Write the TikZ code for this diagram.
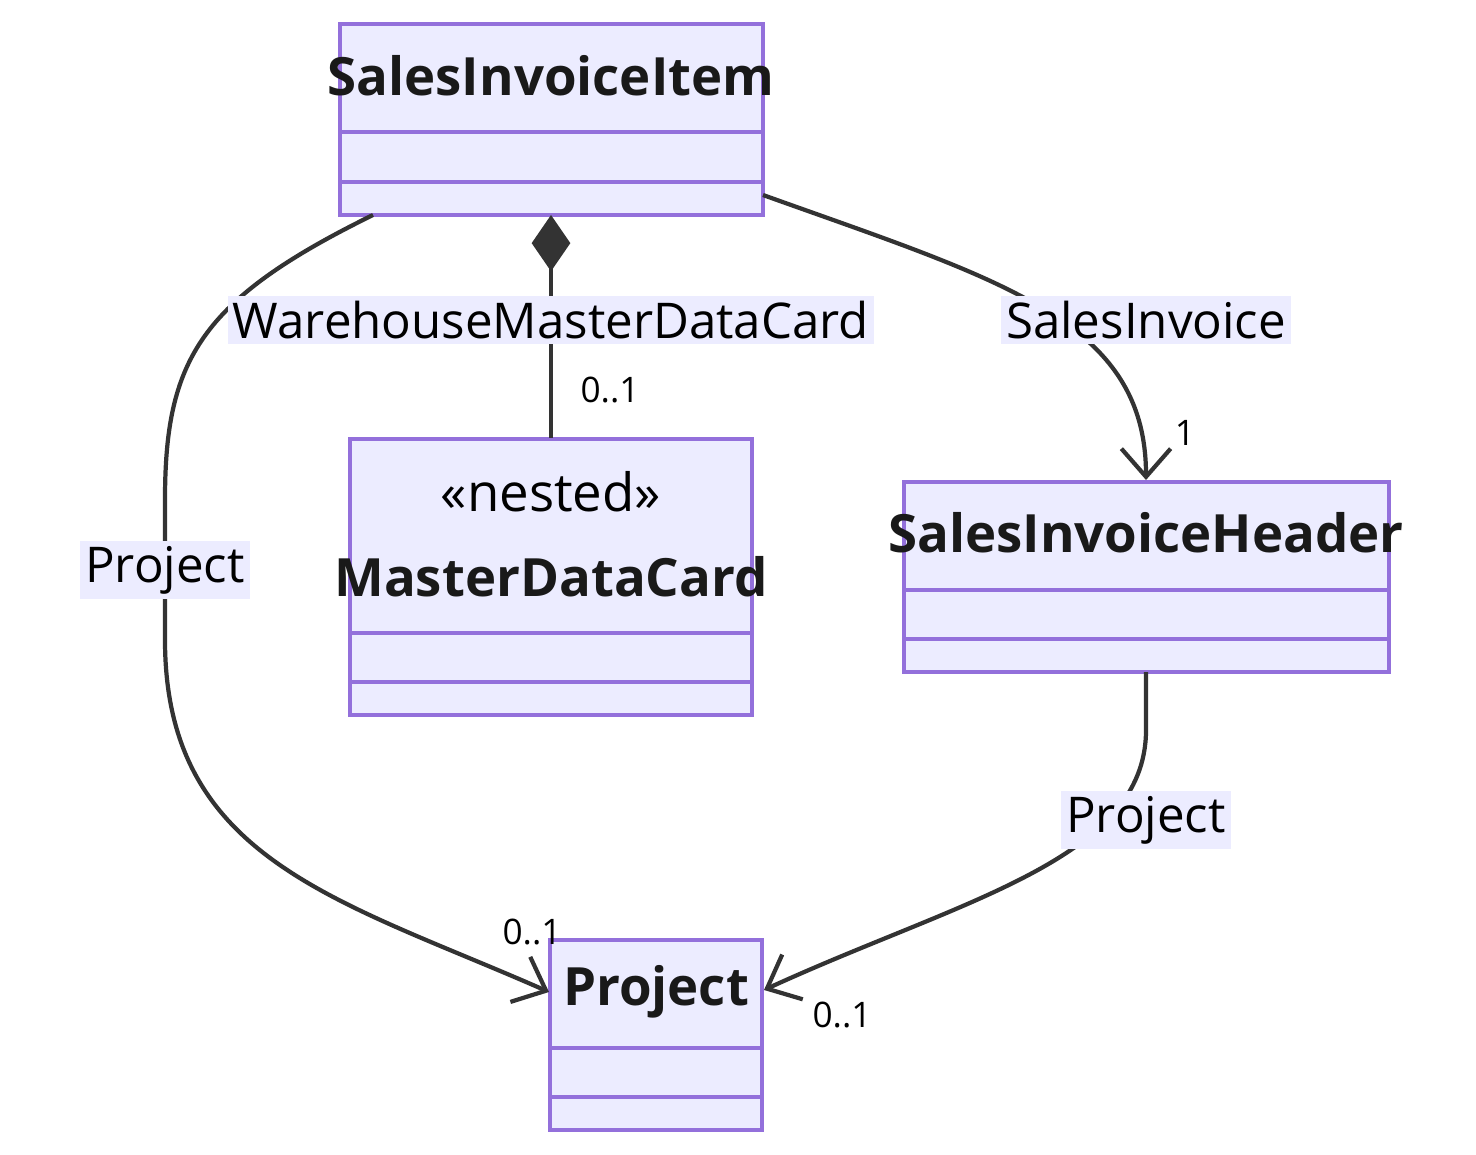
\documentclass[tikz,border=0pt]{standalone}
\usepackage{fontspec}
\setmainfont{Open Sans}
\usetikzlibrary{arrows.meta}
\definecolor{clsfill}{HTML}{ECECFF}
\definecolor{clsdraw}{HTML}{9370DB}
\definecolor{edgecol}{HTML}{333333}
\tikzset{
  cls/.style={draw=clsdraw,fill=clsfill,line width=1.2pt,inner sep=0pt},
  sep/.style={draw=clsdraw,line width=1.2pt},
  title/.style={font=\bfseries\fontsize{15}{18}\selectfont,text=black!90},
  lbl/.style={fill=clsfill,inner sep=1.5pt,font=\fontsize{14}{17}\selectfont},
  mult/.style={font=\fontsize{10}{12}\selectfont},
  rel/.style={draw=edgecol,line width=1.2pt},
  head/.style={-{Straight Barb[length=8pt,width=14pt,line width=1.2pt]}},
  comp/.style={{Diamond[length=16pt,width=11pt,fill=edgecol]}-}
}
\begin{document}
\begin{tikzpicture}[x=0.01cm,y=-0.01cm]
  \useasboundingbox (0,0) rectangle (1476,1155);
  % class boxes
  \node[cls,minimum width=4.23cm,minimum height=1.91cm] (item) at (551.5,119.5) {};
  \draw[sep] (340,132) -- (763,132) (340,182) -- (763,182);
  \node[title] (itemname) at (551,76) {SalesInvoiceItem};
  \node[cls,minimum width=4.02cm,minimum height=2.76cm] (card) at (551,577) {};
  \draw[sep] (350,633) -- (752,633) (350,682) -- (752,682);
  \node[font=\fontsize{15}{18}\selectfont] (cardstereo) at (551,492) {«nested»};
  \node[title] (cardname) at (551,577) {MasterDataCard};
  \node[cls,minimum width=4.85cm,minimum height=1.90cm] (header) at (1146.5,577) {};
  \draw[sep] (904,590) -- (1389,590) (904,639) -- (1389,639);
  \node[title] (headername) at (1146,533) {SalesInvoiceHeader};
  \node[cls,minimum width=2.12cm,minimum height=1.90cm] (project) at (656,1035) {};
  \draw[sep] (550,1048) -- (762,1048) (550,1097) -- (762,1097);
  \node[title] (projectname) at (656,992) {Project};
  % connector ends
  \coordinate (itemsw) at (373,215);
  \coordinate (itemse) at (763,195);
  \coordinate (itemsc) at (551,215);
  \coordinate (cardn) at (551,438);
  \coordinate (headern) at (1146,480);
  \coordinate (headers) at (1146,672);
  \coordinate (projectw) at (549,992);
  \coordinate (projecte) at (764,990);
  % relations
  \draw[rel,head] (itemsw) .. controls (200,300) and (165,360) .. (165,500)
    -- (165,640) .. controls (165,860) and (340,900) .. (projectw);
  \draw[rel,comp] (itemsc) -- (cardn);
  \draw[rel,head] (itemse) .. controls (1000,280) and (1146,320) .. (headern);
  \draw[rel,head] (headers) -- (1146,730) .. controls (1146,860) and (960,900) .. (projecte);
  % labels
  \node[lbl] (lblproj1) at (165,570) {Project};
  \node[lbl] (lblcard) at (551,320) {WarehouseMasterDataCard};
  \node[lbl] (lblinv) at (1146,320) {SalesInvoice};
  \node[lbl] (lblproj2) at (1146,820) {Project};
  \node[mult] (m1) at (610,390) {0..1};
  \node[mult] (m2) at (1185,433) {1};
  \node[mult] (m3) at (532,932) {0..1};
  \node[mult] (m4) at (842,1015) {0..1};
\end{tikzpicture}
\end{document}
